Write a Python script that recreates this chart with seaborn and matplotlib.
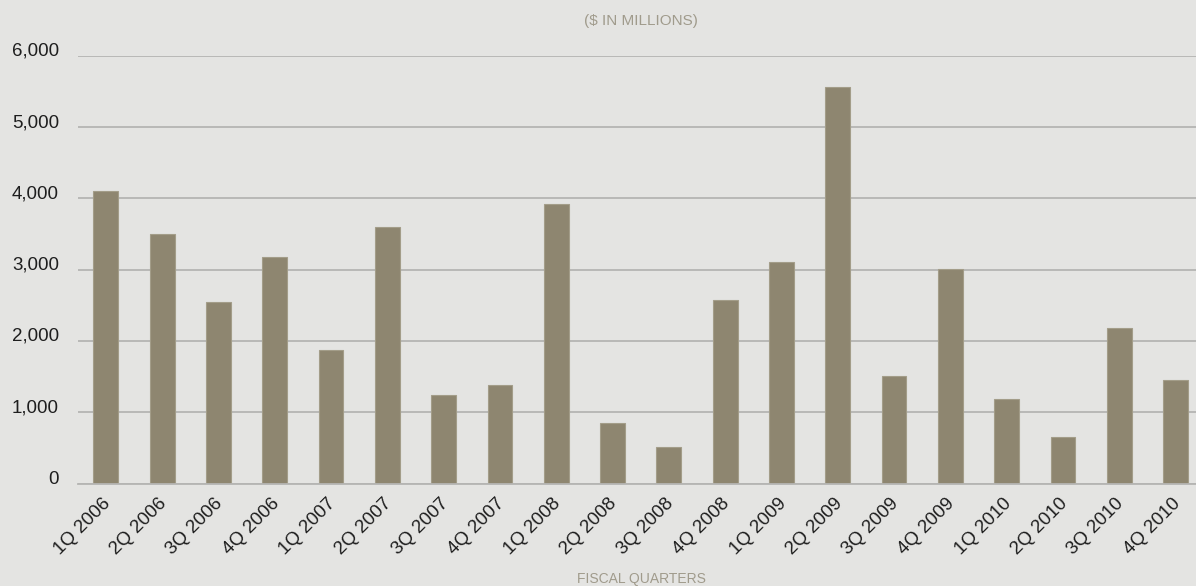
import matplotlib
matplotlib.use("Agg")
import matplotlib.pyplot as plt
import matplotlib.transforms as mtransforms
import seaborn as sns
import pandas as pd

quarters = ["1Q 2006", "2Q 2006", "3Q 2006", "4Q 2006",
            "1Q 2007", "2Q 2007", "3Q 2007", "4Q 2007",
            "1Q 2008", "2Q 2008", "3Q 2008", "4Q 2008",
            "1Q 2009", "2Q 2009", "3Q 2009", "4Q 2009",
            "1Q 2010", "2Q 2010", "3Q 2010", "4Q 2010"]
values = [4100, 3505, 2545, 3182,
          1868, 3595, 1240, 1385,
          3915, 845, 515, 2570,
          3115, 5570, 1513, 3008,
          1180, 646, 2177, 1451]
yticks = [0, 1000, 2000, 3000, 4000, 5000, 6000]
ytick_labels = ["0", "1,000", "2,000", "3,000", "4,000", "5,000", "6,000"]

BG = "#e4e4e2"
BAR = "#8e8670"
GRID = "#b5b5b3"
TXT = "#1e1e1e"
SUB = "#a09b8c"

sns.set_theme(style="white")
plt.rcParams["font.family"] = ["Liberation Sans", "DejaVu Sans"]

df = pd.DataFrame({"quarter": quarters, "value": values})

fig = plt.figure(figsize=(11.96, 5.86), dpi=100, facecolor=BG)
ax = fig.add_axes([77.7 / 1196, 102.5 / 586, 1126 / 1196, 427.6 / 586])
ax.set_facecolor(BG)

sns.barplot(data=df, x="quarter", y="value", color=BAR, width=0.44,
            saturation=1, edgecolor="#a39d89", linewidth=0.8, ax=ax, zorder=3)

ax.set_xlim(-0.5, len(quarters) - 0.5)
ax.set_ylim(0, 6000)
ax.set_yticks(yticks)
ax.set_yticklabels(ytick_labels)
ax.yaxis.grid(True, color=GRID, linewidth=1.3, zorder=0)
ax.set_axisbelow(True)

for side in ["top", "right", "left"]:
    ax.spines[side].set_visible(False)
ax.spines["bottom"].set_color(GRID)
ax.spines["bottom"].set_linewidth(1.3)
ax.spines["bottom"].set_zorder(4)

ax.tick_params(axis="y", length=0, pad=13.5, labelsize=13.5, labelcolor=TXT)
for lbl in ax.get_yticklabels():
    lbl.set_verticalalignment("baseline")

ax.set_xticks([i - 0.5 for i in range(len(quarters))], minor=True)
ax.tick_params(axis="x", which="minor", length=7, width=1.1, color=GRID, direction="out")
ax.tick_params(axis="x", which="major", length=0, pad=8, labelsize=13.5, labelcolor=TXT)
offset = mtransforms.ScaledTranslation(-0.04, 0, fig.dpi_scale_trans)
for lbl in ax.get_xticklabels():
    lbl.set_rotation(45)
    lbl.set_ha("right")
    lbl.set_va("top")
    lbl.set_rotation_mode("anchor")
    lbl.set_transform(lbl.get_transform() + offset)

ax.set_xlabel("")
ax.set_ylabel("")

fig.text(641 / 1196, 1 - 21 / 586, "($ IN MILLIONS)", ha="center", va="center",
         fontsize=11, color=SUB)
fig.text(641 / 1196, 1 - 578.5 / 586, "FISCAL QUARTERS", ha="center", va="center",
         fontsize=10, color=SUB)

fig.savefig("out.png", dpi=100, facecolor=BG)
